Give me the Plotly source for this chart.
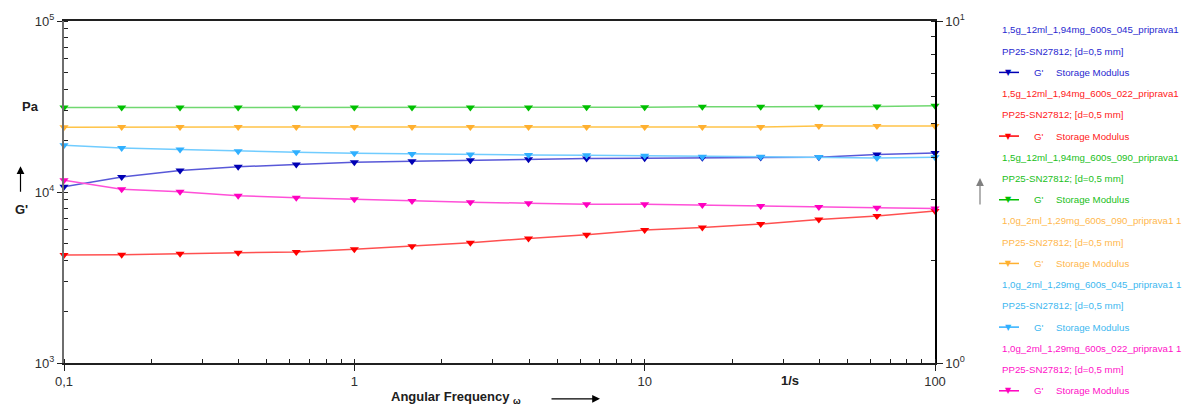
import plotly.graph_objects as go

# Angular frequency sweep points (1/s)
freq = [0.1, 0.158, 0.251, 0.398, 0.631, 1.0, 1.58, 2.51, 3.98, 6.31,
        10.0, 15.8, 25.1, 39.8, 63.1, 100.0]

# Storage modulus G' (Pa) for each sample
g_15_045 = [10740, 12220, 13370, 14030, 14490, 14940, 15140, 15350, 15550, 15700,
            15760, 15870, 15900, 15980, 16570, 16930]
g_15_022 = [4285, 4300, 4360, 4420, 4460, 4620, 4810, 5050, 5350, 5620,
            5990, 6200, 6490, 6900, 7250, 7750]
g_15_090 = [31200, 31200, 31150, 31200, 31200, 31200, 31250, 31200, 31250, 31300,
            31300, 31500, 31500, 31500, 31600, 31900]
g_10_090 = [23900, 24000, 24000, 24000, 24000, 24000, 24000, 24000, 24000, 24000,
            24000, 24000, 24000, 24300, 24300, 24350]
g_10_045 = [18760, 18100, 17720, 17320, 17090, 16860, 16700, 16570, 16480, 16410,
            16300, 16100, 16050, 16000, 15830, 15950]
g_10_022 = [11700, 10370, 10040, 9520, 9270, 9070, 8870, 8710, 8600, 8480,
            8480, 8400, 8290, 8180, 8100, 8000]

sample_names = [
    "1,5g_12ml_1,94mg_600s_045_priprava1",
    "1,5g_12ml_1,94mg_600s_022_priprava1",
    "1,5g_12ml_1,94mg_600s_090_priprava1",
    "1,0g_2ml_1,29mg_600s_090_priprava1 1",
    "1,0g_2ml_1,29mg_600s_045_priprava1 1",
    "1,0g_2ml_1,29mg_600s_022_priprava1 1",
]
geometry_label = "PP25-SN27812; [d=0,5 mm]"
quantity_symbol = "G'"
quantity_name = "Storage Modulus"

x_tickvals = [0.1, 1, 10, 100]
x_ticktext = ["0,1", "1", "10", "100"]
y_tickvals = [1e3, 1e4, 1e5]
y_ticktext = ["10<sup>3</sup>", "10<sup>4</sup>", "10<sup>5</sup>"]
y2_tickvals = [1, 10]
y2_ticktext = ["10<sup>0</sup>", "10<sup>1</sup>"]

series = [g_15_045, g_15_022, g_15_090, g_10_090, g_10_045, g_10_022]
marker_colors = ["#0000b4", "#ff0000", "#00c000", "#ffb030", "#30b0ff", "#ff00c0"]
line_colors = ["#5858d8", "#ff5050", "#70d870", "#ffc448", "#70ccff", "#ff50d8"]
text_colors = ["#2828d0", "#ff2020", "#20c020", "#ffb84d", "#40b8f0", "#ff10c8"]

FONT = "Liberation Sans, Arial, sans-serif"

# plot area in pixels
W, H = 1195, 408
L, R, T, B = 64, 260, 19, 45
PW, PH = W - L - R, H - T - B


def px(xp):
    return (xp - L) / PW


def py(yp):
    return (H - B - yp) / PH


def label(text, x, y, size=13, color="#202020", family=FONT, xanchor="center"):
    return dict(text=text, x=px(x), y=py(y), xref="paper", yref="paper",
                xanchor=xanchor, yanchor="middle", showarrow=False,
                font=dict(family=family, size=size, color=color))


def arrow(x, y, ax, ay, color="#000000"):
    return dict(text="", x=px(x), y=py(y), ax=ax, ay=ay, xref="paper", yref="paper",
                showarrow=True, arrowhead=2, arrowsize=1.3, arrowwidth=1.2,
                arrowcolor=color)


fig = go.Figure()
for vals, mc, lc in zip(series, marker_colors, line_colors):
    fig.add_trace(go.Scatter(
        x=freq, y=vals, mode="lines+markers",
        line=dict(color=lc, width=1.5),
        marker=dict(symbol="triangle-down", size=8, color=mc, line=dict(width=0)),
        showlegend=False, cliponaxis=False,
    ))

# empty trace so the right-hand axis is drawn
fig.add_trace(go.Scatter(x=[], y=[], yaxis="y2", showlegend=False, hoverinfo="skip"))

annotations = []
shapes = []

# legend block on the right
row0, dy = 28, 21.35
for i, name in enumerate(sample_names):
    c = text_colors[i]
    y_name = row0 + dy * (3 * i)
    y_geo = row0 + dy * (3 * i + 1)
    y_key = row0 + dy * (3 * i + 2)
    annotations.append(label(name, 1000, y_name, size=9.7, color=c, xanchor="left"))
    annotations.append(label(geometry_label, 1000, y_geo, size=9.7, color=c, xanchor="left"))
    shapes.append(dict(type="line", xref="paper", yref="paper",
                       x0=px(999), x1=px(1019), y0=py(y_key), y1=py(y_key),
                       line=dict(color=marker_colors[i], width=1.5)))
    annotations.append(label("▼", 1009, y_key, size=8, color=marker_colors[i],
                             family="DejaVu Sans"))
    annotations.append(label(quantity_symbol, 1032, y_key, size=9.7, color=c, xanchor="left"))
    annotations.append(label(quantity_name, 1054, y_key, size=9.7, color=c, xanchor="left"))

# axis captions, units and arrows
annotations += [
    label("<b>Pa</b>", 30, 105),
    label("<b>G'</b>", 21, 209),
    arrow(20.5, 165, 0, 27),
    label("<b>Angular Frequency</b> <sub><b>ω</b></sub>", 456, 398),
    arrow(600, 399, -50, 0),
    label("<b>1/s</b>", 790, 381),
    arrow(980, 177, 0, 28, color="#808080"),
]

tickfont = dict(family=FONT, size=13, color="#303030")

fig.update_layout(
    width=W, height=H,
    margin=dict(l=L, r=R, t=T, b=B, pad=0),
    paper_bgcolor="white", plot_bgcolor="white",
    showlegend=False,
    annotations=annotations, shapes=shapes,
    xaxis=dict(
        type="log", range=[-1, 2], showgrid=False, zeroline=False,
        showline=True, linecolor="#202020", linewidth=1.5, mirror=True,
        tickvals=x_tickvals, ticktext=x_ticktext, ticks="outside", ticklen=6,
        tickcolor="#202020", tickwidth=1, tickfont=tickfont,
        minor=dict(ticks="inside", ticklen=4, tickcolor="#202020", dtick="D1", showgrid=False),
    ),
    yaxis=dict(
        type="log", range=[3, 5], showgrid=False, zeroline=False,
        showline=True, linecolor="#6e6e6e", linewidth=2,
        tickvals=y_tickvals, ticktext=y_ticktext, ticks="outside", ticklen=5,
        tickcolor="#202020", tickwidth=1, tickfont=tickfont,
        minor=dict(ticks="inside", ticklen=4, tickcolor="#202020", dtick="D1", showgrid=False),
    ),
    yaxis2=dict(
        type="log", range=[0, 1], overlaying="y", side="right",
        showgrid=False, zeroline=False,
        showline=True, linecolor="#000000", linewidth=1.5,
        tickvals=y2_tickvals, ticktext=y2_ticktext, ticks="outside", ticklen=6,
        tickcolor="#202020", tickwidth=1, tickfont=tickfont,
        minor=dict(ticks="inside", ticklen=4, tickcolor="#202020", dtick="D1", showgrid=False),
    ),
)

fig.write_html("out.html")
